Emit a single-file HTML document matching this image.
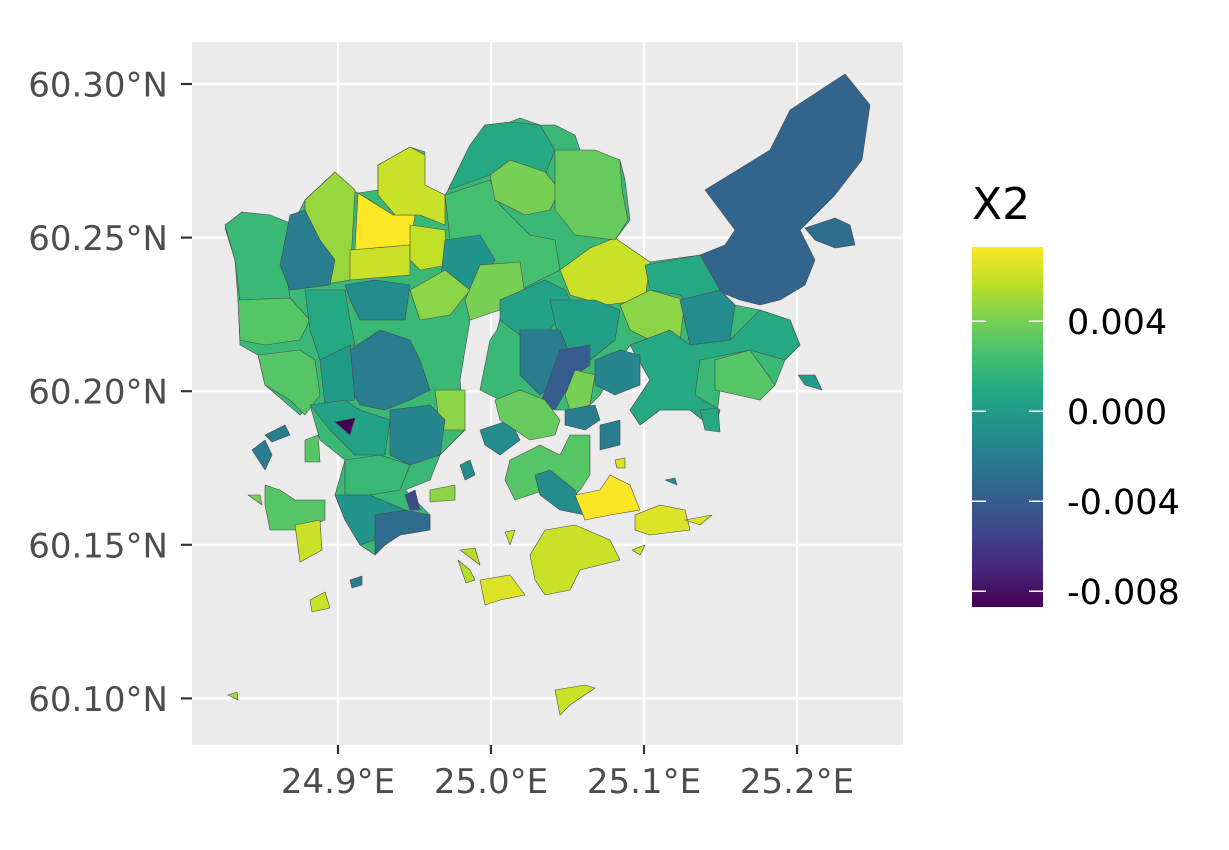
<!DOCTYPE html>
<html><head><meta charset="utf-8"><style>
html,body{margin:0;padding:0;background:#fff;}
svg text{font-family:"DejaVu Sans","Liberation Sans",sans-serif;}
</style></head><body>
<svg id="chart" width="1229" height="845" viewBox="0 0 1229 845" xmlns="http://www.w3.org/2000/svg">
<rect x="192" y="42" width="711" height="703" fill="#ebebeb"/>
<g id="grid"></g>
<g id="regions"></g>
<g id="axes"></g>
<g id="legend"></g>
</svg>
<script>
const xTicks=[24.9,25.0,25.1,25.2];
const xTickLabels=["24.9°E","25.0°E","25.1°E","25.2°E"];
const yTicks=[60.30,60.25,60.20,60.15,60.10];
const yTickLabels=["60.30°N","60.25°N","60.20°N","60.15°N","60.10°N"];
const legendTicks=[0.004,0.000,-0.004,-0.008];
const legendTickLabels=["0.004","0.000","-0.004","-0.008"];
const values=[0.002,-0.0035,-0.003,0.006,0.0048,0.0073,0.006,0.006,0.0058,0.002,-0.002,-0.001,0.003,0.001,0.0025,0.001,0.004,0.0035,-0.0005,0.004,0.0045,0.0005,0.0003,0.0045,0.001,-0.001,0.001,0.003,-0.0015,-0.002,-0.004,0.004,-0.002,0.003,0.0,0.0045,0.0005,-0.0087,-0.0015,0.002,-0.0005,-0.003,-0.005,0.003,0.006,0.0045,-0.001,-0.001,0.0035,-0.002,-0.002,0.003,-0.001,0.0072,0.0065,0.0065,0.006,0.0065,0.006,0.006,-0.002,0.005,0.0055,0.0055,0.006,0.0065,0.006,-0.001,0.0,-0.002,-0.002,0.003,0.004,0.001];
const shapes=[
"225,228 242,212 270,218 290,225 300,210 305,200 335,172 352,190 358,193 378,190 378,165 410,147 425,152 422,185 445,195 448,190 470,145 485,125 510,122 520,118 540,125 555,125 575,135 580,150 620,160 625,180 630,220 615,240 650,262 700,255 720,290 735,305 760,310 790,320 800,345 785,360 775,385 760,400 720,390 715,430 690,410 660,410 640,425 630,410 650,380 630,345 600,395 585,410 565,410 555,410 540,405 520,390 500,400 480,390 490,340 497,330 505,300 470,320 460,380 465,430 440,455 430,480 405,490 430,515 430,530 400,535 385,545 375,555 360,545 345,520 335,495 345,460 320,440 310,405 300,415 265,385 258,355 240,345 238,300 235,260",
"705,190 770,150 790,110 845,74 870,105 862,160 835,195 820,210 800,230 815,260 805,285 780,300 760,305 740,300 715,290 700,255 725,245 735,230 720,210",
"805,228 835,218 850,225 855,245 835,248 815,240",
"560,270 590,248 615,238 650,262 645,300 605,305 570,295",
"305,200 335,172 355,190 350,280 320,285 305,250",
"358,193 393,215 415,215 410,245 355,250",
"378,165 410,147 425,155 425,185 445,195 445,225 420,215 395,215 378,195",
"350,250 410,245 410,275 350,280",
"410,225 445,230 448,265 420,270 410,260",
"225,225 242,212 270,215 295,225 285,265 290,298 240,300 235,260",
"290,215 305,210 320,240 335,260 330,285 290,290 280,265",
"345,285 375,280 410,285 405,320 360,320 350,300",
"238,300 290,298 310,320 300,340 265,345 240,340",
"305,290 345,290 350,320 355,345 320,360 310,330",
"445,195 490,180 500,205 530,235 555,240 560,270 520,290 500,300 480,280 480,250 450,240",
"448,190 470,145 485,125 510,122 540,125 555,150 545,175 520,165 490,175",
"490,175 510,160 545,172 560,190 550,210 525,215 495,200",
"555,150 595,150 620,160 622,190 628,220 615,240 575,235 555,210",
"445,240 480,235 495,260 475,290 455,300 440,285",
"480,265 520,262 525,295 500,310 470,320 465,300",
"410,290 445,270 470,290 450,315 420,320",
"500,300 545,280 565,290 570,300 550,330 520,335 500,320",
"550,300 595,300 620,310 615,340 590,360 560,345",
"620,305 650,290 685,300 680,340 660,345 630,330",
"645,265 700,255 720,290 700,300 685,300 680,295 650,290",
"680,300 720,290 735,305 730,340 690,345",
"630,345 670,330 690,345 730,340 760,310 790,320 800,345 785,360 750,350 725,355 700,360 695,395 720,410 715,430 690,410 660,410 640,425 630,410 650,380",
"715,360 750,350 775,385 760,400 715,390",
"595,360 620,350 640,355 640,385 615,395 595,385",
"520,330 560,330 570,355 560,380 540,395 520,375",
"560,350 590,345 590,365 575,375 555,410 540,405",
"575,370 595,375 590,405 570,410 565,395",
"350,350 380,330 410,340 420,360 430,390 410,400 385,410 360,405 345,380",
"258,355 300,350 315,360 320,395 305,415 290,400 265,385",
"320,360 350,345 355,400 325,405",
"435,390 465,390 465,430 440,430",
"310,405 345,400 360,410 390,420 385,455 355,455 330,430",
"335,422 355,418 350,435",
"390,410 430,405 445,420 440,455 410,465 390,455",
"345,460 380,455 410,465 400,490 370,495 345,495",
"335,495 370,495 405,510 400,530 375,540 360,545 345,520",
"375,515 405,510 430,515 430,530 400,535 385,545 375,555",
"405,495 415,490 420,510 410,510",
"265,485 280,490 295,500 325,500 325,520 300,530 270,530 265,505",
"295,525 320,520 322,550 300,562",
"430,490 455,485 455,500 430,502",
"460,465 470,460 475,475 465,480",
"480,430 510,420 520,440 500,455 485,445",
"495,400 520,390 545,400 560,420 555,435 530,440 500,420",
"565,410 595,405 600,420 585,430 565,425",
"600,425 620,420 620,445 600,450",
"510,460 540,445 560,455 570,435 590,435 590,475 580,490 570,500 545,490 515,500 505,480",
"535,475 550,470 575,490 585,515 560,510 540,495",
"575,495 600,490 610,475 630,485 640,510 610,515 585,520",
"635,515 660,505 685,510 690,530 650,535 635,530",
"685,520 712,515 700,525",
"530,555 545,530 575,525 610,540 620,560 580,570 570,590 545,595 535,580",
"480,580 510,575 525,595 500,600 485,605",
"555,690 585,685 595,688 570,705 560,715",
"310,600 325,592 330,608 312,612",
"350,580 362,576 362,585 352,588",
"228,695 237,692 238,700",
"460,550 475,548 480,565",
"458,560 470,570 475,580 466,583",
"505,532 515,530 510,545",
"615,460 625,458 625,468 617,468",
"632,550 645,545 640,555",
"665,480 675,478 677,485",
"798,375 815,375 822,390 805,385",
"252,450 265,440 272,455 265,470",
"265,435 285,425 290,435 272,442",
"305,440 318,435 320,462 305,462",
"248,495 260,495 262,505",
"700,410 718,408 720,432 705,430"
];
const NS="http://www.w3.org/2000/svg";
const xScale=v=>338+(v-24.9)*1530;
const yScale=v=>84+(60.30-v)*3072;
const legTop=247,legBot=607,legMax=0.0073,legMin=-0.0087;
const legScale=v=>legTop+(legMax-v)/(legMax-legMin)*(legBot-legTop);
const vir=[[0,[68,1,84]],[0.1,[72,36,117]],[0.2,[65,68,135]],[0.3,[53,95,141]],[0.4,[42,120,142]],[0.5,[33,145,140]],[0.6,[34,168,132]],[0.7,[68,191,112]],[0.8,[122,209,81]],[0.9,[189,223,38]],[1,[253,231,37]]];
function color(v){let t=(v-legMin)/(legMax-legMin);t=Math.max(0,Math.min(1,t));
for(let i=1;i<vir.length;i++){if(t<=vir[i][0]){const a=vir[i-1],b=vir[i];const f=(t-a[0])/(b[0]-a[0]);
return "rgb("+a[1].map((c,k)=>Math.round(c+(b[1][k]-c)*f)).join(",")+")";}}return "rgb(253,231,37)";}
function mk(tag,attrs,parent){const e=document.createElementNS(NS,tag);for(const k in attrs)e.setAttribute(k,attrs[k]);parent.appendChild(e);return e;}
const grid=document.getElementById('grid');
xTicks.forEach(v=>{const l=mk('line',{x1:xScale(v),x2:xScale(v),y1:42,y2:745,stroke:'#fff','stroke-width':2.2},grid);

});
yTicks.forEach(v=>{const l=mk('line',{x1:192,x2:903,y1:yScale(v),y2:yScale(v),stroke:'#fff','stroke-width':2.2},grid);

});
const reg=document.getElementById('regions');
shapes.forEach((s,i)=>{const p=mk('polygon',{points:s,fill:color(values[i]),stroke:'#4a4a4a','stroke-width':0.6,'stroke-linejoin':'round'},reg);

});
const ax=document.getElementById('axes');
xTicks.forEach((v,i)=>{const l=mk('line',{x1:xScale(v),x2:xScale(v),y1:745,y2:754,stroke:'#333','stroke-width':2.2},ax);


const t=mk('text',{x:xScale(v),y:793,'text-anchor':'middle','font-size':34,fill:'#4d4d4d'},ax);t.textContent=xTickLabels[i];

});
yTicks.forEach((v,i)=>{const l=mk('line',{x1:181,x2:192,y1:yScale(v),y2:yScale(v),stroke:'#333','stroke-width':2.2},ax);


const t=mk('text',{x:168,y:yScale(v)+12.5,'text-anchor':'end','font-size':34,fill:'#4d4d4d'},ax);t.textContent=yTickLabels[i];

});
const lg=document.getElementById('legend');
const defs=mk('defs',{},lg);const gr=mk('linearGradient',{id:'vg',x1:0,y1:1,x2:0,y2:0},defs);
vir.forEach(s=>mk('stop',{offset:s[0],'stop-color':'rgb('+s[1].join(',')+')'},gr));
const title=mk('text',{x:972,y:219,'font-size':44,fill:'#000'},lg);title.textContent='X2';


const bar=mk('rect',{x:972,y:legTop,width:71,height:legBot-legTop,fill:'url(#vg)'},lg);


legendTicks.forEach((v,i)=>{const y=legScale(v);
const a=mk('line',{x1:972,x2:986,y1:y,y2:y,stroke:'#fff','stroke-width':1.5},lg);


const b=mk('line',{x1:1029,x2:1043,y1:y,y2:y,stroke:'#fff','stroke-width':1.5},lg);


const t=mk('text',{x:1067,y:y+12.5,'font-size':35,fill:'#000'},lg);t.textContent=legendTickLabels[i];

});
</script>
</body></html>
